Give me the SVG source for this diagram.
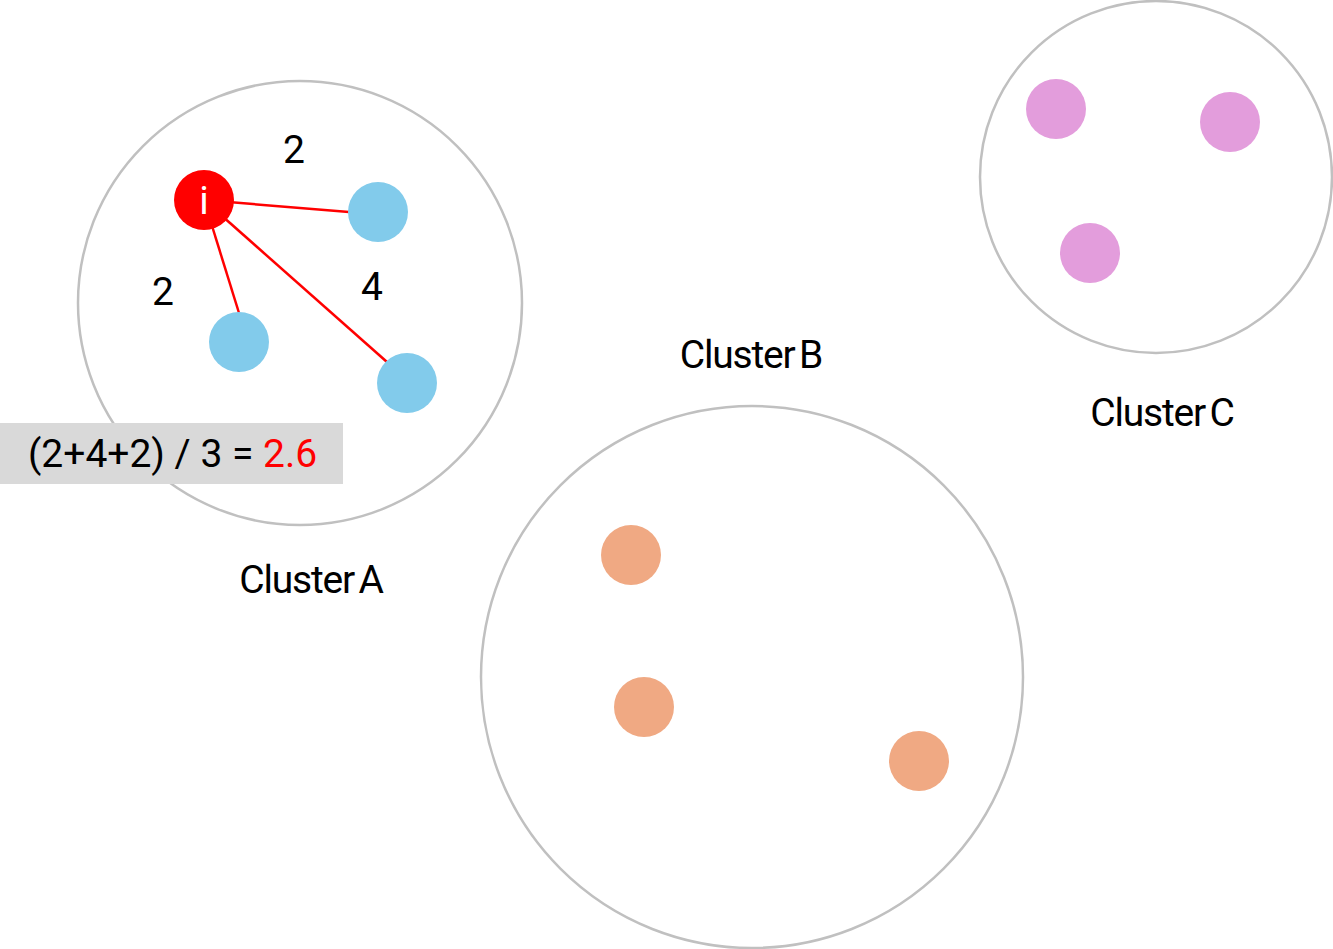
<svg xmlns="http://www.w3.org/2000/svg" width="1333" height="949" viewBox="0 0 1333 949">
<style>
.cl{fill:none;stroke:#c0c0c0;stroke-width:2.5}
.t{font-family:Roboto,"Liberation Sans",sans-serif;font-size:39px;fill:#000}
.lab{letter-spacing:-1.2px;word-spacing:-4px}
.e{stroke:#ff0000;stroke-width:2.5;fill:none}
.blue{fill:#82cbeb}
.orange{fill:#f0a983}
.pink{fill:#e39ddc}
</style>
<rect width="1333" height="949" fill="#fff"/>
<g id="clusterA"><circle class="cl" cx="300" cy="303" r="222"/><text class="t lab" x="311" y="593" text-anchor="middle">Cluster A</text></g>
<g id="clusterB"><circle class="cl" cx="752" cy="677" r="271"/><text class="t lab" x="751" y="368" text-anchor="middle">Cluster B</text></g>
<g id="clusterC"><circle class="cl" cx="1156" cy="177" r="176"/><text class="t lab" x="1162" y="426" text-anchor="middle">Cluster C</text></g>
<g id="edges">
<line class="e" x1="204" y1="200" x2="349" y2="212"/>
<line class="e" x1="204" y1="200" x2="239" y2="313"/>
<line class="e" x1="204" y1="200" x2="387" y2="362"/>
<text class="t" x="294" y="163" text-anchor="middle">2</text>
<text class="t" x="163" y="305" text-anchor="middle">2</text>
<text class="t" x="372" y="300" text-anchor="middle">4</text>
</g>
<g id="node-i"><circle cx="204" cy="200" r="30" fill="#ff0000"/><text class="t" x="204" y="214" text-anchor="middle" style="fill:#fff">i</text></g>
<g id="a1"><circle class="blue" cx="378" cy="212" r="30"/></g>
<g id="a2"><circle class="blue" cx="239" cy="342" r="30"/></g>
<g id="a3"><circle class="blue" cx="407" cy="383" r="30"/></g>
<g id="b1"><circle class="orange" cx="631" cy="555" r="30"/></g>
<g id="b2"><circle class="orange" cx="644" cy="707" r="30"/></g>
<g id="b3"><circle class="orange" cx="919" cy="761" r="30"/></g>
<g id="c1"><circle class="pink" cx="1056" cy="109" r="30"/></g>
<g id="c2"><circle class="pink" cx="1230" cy="122" r="30"/></g>
<g id="c3"><circle class="pink" cx="1090" cy="253" r="30"/></g>
<g id="formula"><rect x="0" y="423" width="343" height="61" fill="#d9d9d9"/><text class="t" x="28" y="467">(2+4+2) / 3 = <tspan fill="#ff0000">2.6</tspan></text></g>
</svg>
